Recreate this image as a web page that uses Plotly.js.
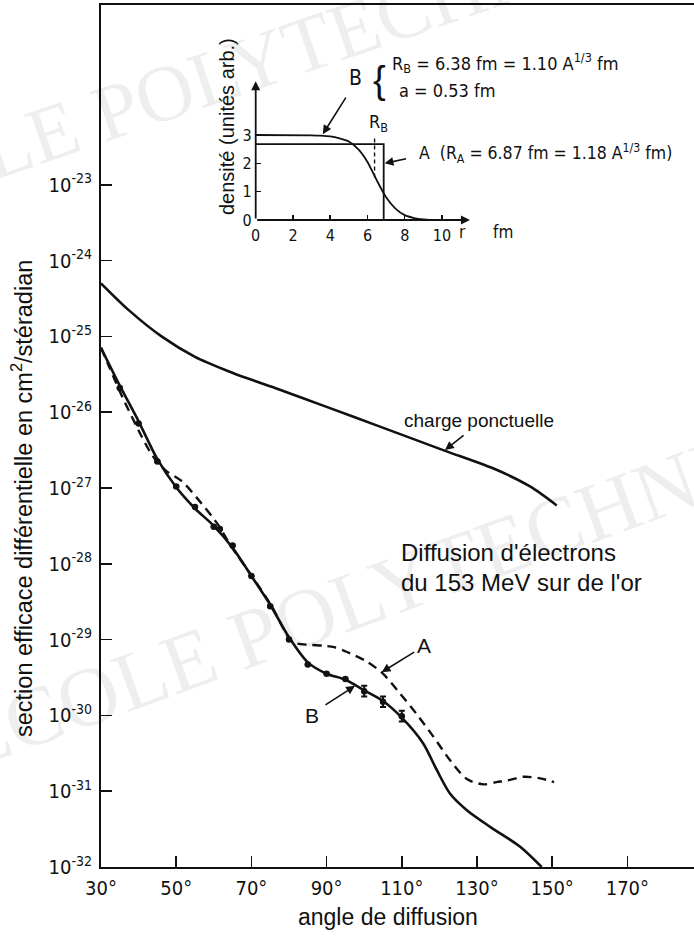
<!DOCTYPE html>
<html><head><meta charset="utf-8">
<script src="https://cdn.plot.ly/plotly-3.0.1.min.js"></script>
<style>html,body{margin:0;padding:0;background:#fff}#chart{width:694px;height:939px}</style>
</head><body><div id="chart"></div>
<script>
// Main chart: scattering angle (degrees) vs log10 of cross section (cm^2/sr)
const angleCharge = [30, 37.3, 46.1, 55, 63.9, 68.7, 76.3, 90, 104.2, 121.0, 135.2, 144.1, 151.2];
const logCharge   = [-24.30, -24.65, -25.00, -25.27, -25.46, -25.55, -25.68, -25.93, -26.19, -26.50, -26.76, -26.98, -27.23];

const angleB = [30, 35, 40, 45, 50, 55, 60, 65, 70, 75, 80, 85, 90, 95, 100, 105, 110, 115.7, 119.3, 122.8, 127.3, 133.5, 141.4, 147.2];
const logB   = [-25.15, -25.65, -26.12, -26.62, -26.99, -27.27, -27.50, -27.79, -28.16, -28.54, -28.97, -29.30, -29.45, -29.53, -29.67, -29.81, -30.03, -30.37, -30.72, -31.03, -31.25, -31.47, -31.73, -32.0];

const angleA = [30, 32, 35.5, 40.4, 43, 45, 47.5, 51.5, 55.5, 59.9, 61.6, 64.5, 70.1, 75.4, 80.3, 82, 85.6, 89.1, 92, 95.3, 100.7, 105, 109.5, 113.9, 118.4, 122.8, 127.3, 131.7, 135.2, 138, 142.3, 146.8, 150.5];
const logA   = [-25.15, -25.38, -25.78, -26.28, -26.52, -26.66, -26.78, -26.91, -27.13, -27.40, -27.52, -27.76, -28.16, -28.56, -29.00, -29.05, -29.07, -29.08, -29.10, -29.16, -29.29, -29.45, -29.71, -29.98, -30.28, -30.59, -30.84, -30.91, -30.88, -30.86, -30.81, -30.83, -30.88];

const angleData = [35, 40, 45, 50, 55, 60, 61.6, 65, 70, 75, 80, 85, 90, 95, 100, 105, 110];
const logData   = [-25.68, -26.15, -26.65, -26.98, -27.25, -27.51, -27.54, -27.76, -28.16, -28.56, -29.00, -29.33, -29.45, -29.52, -29.68, -29.82, -30.01];
const errLog    = [0, 0, 0, 0, 0, 0, 0, 0, 0, 0, 0, 0, 0, 0, 0.07, 0.07, 0.07];

const xTickVals = [30, 50, 70, 90, 110, 130, 150, 170];
const xTickText = ["30°", "50°", "70°", "90°", "110°", "130°", "150°", "170°"];
const yTickExp  = [-23, -24, -25, -26, -27, -28, -29, -30, -31, -32];

// Inset: density profiles
const rFermi    = [0, 3.0, 3.5, 4.0, 4.5, 5.0, 5.5, 6.0, 6.5, 7.0, 7.5, 8.0, 8.5, 9.0, 9.5];
const densFermi = [3.0, 2.99, 2.98, 2.95, 2.88, 2.77, 2.5, 2.05, 1.4, 0.8, 0.4, 0.17, 0.07, 0.02, 0.0];
const rA = 6.87, densA = 2.68, rB = 6.38;
const insetTicksX = [0, 2, 4, 6, 8, 10];
const insetTicksY = [0, 1, 2, 3];

const pw = (v) => Math.pow(10, v);
const BLACK = '#111';
const NARROW = '"Liberation Sans Narrow", "DejaVu Sans Condensed", "Liberation Sans", sans-serif';
const SANS = '"Liberation Sans", Arial, sans-serif';

// layout helpers (pixel -> paper)
const L = 101, R = 694, T = 5, B = 867;
const xp = (px) => (px - L) / (R - L);
const yp = (py) => (B - py) / (B - T);

const traces = [
  {x: angleCharge, y: logCharge.map(pw), mode: 'lines', line: {color: BLACK, width: 2.6, shape: 'spline', smoothing: 0.8}, xaxis: 'x', yaxis: 'y'},
  {x: angleA, y: logA.map(pw), mode: 'lines', line: {color: BLACK, width: 2.4, dash: '9px,6px', shape: 'spline', smoothing: 0.8}, xaxis: 'x', yaxis: 'y'},
  {x: angleB, y: logB.map(pw), mode: 'lines', line: {color: BLACK, width: 2.6, shape: 'spline', smoothing: 0.8}, xaxis: 'x', yaxis: 'y'},
  {x: angleData, y: logData.map(pw), mode: 'markers', marker: {color: BLACK, size: 6.5},
   error_y: {type: 'data', symmetric: false,
     array: logData.map((v, i) => pw(v + errLog[i]) - pw(v)),
     arrayminus: logData.map((v, i) => pw(v) - pw(v - errLog[i])),
     color: BLACK, thickness: 2, width: 3},
   xaxis: 'x', yaxis: 'y'},
  // inset
  {x: rFermi, y: densFermi, mode: 'lines', line: {color: BLACK, width: 1.8, shape: 'spline', smoothing: 0.6}, xaxis: 'x2', yaxis: 'y2'},
  {x: [0, rA, rA], y: [densA, densA, 0], mode: 'lines', line: {color: BLACK, width: 1.8}, xaxis: 'x2', yaxis: 'y2'},
  {x: [rB, rB], y: [1.5, 2.95], mode: 'lines', line: {color: BLACK, width: 1.4, dash: '4px,3px'}, xaxis: 'x2', yaxis: 'y2'}
];

const ann = [];
function txt(text, px, py, size, opts) {
  ann.push(Object.assign({text: text, x: xp(px), y: yp(py), xref: 'paper', yref: 'paper', showarrow: false,
    font: {family: SANS, size: size, color: BLACK}, xanchor: 'center', yanchor: 'middle'}, opts || {}));
}
function arrowMain(x, logy, ax, ay) {
  ann.push({x: x, y: logy, xref: 'x', yref: 'y', text: '', showarrow: true, ax: ax, ay: ay,
    arrowhead: 2, arrowsize: 1.1, arrowwidth: 1.6, arrowcolor: BLACK});
}
function arrowInset(x, y, ax, ay) {
  ann.push({x: x, y: y, xref: 'x2', yref: 'y2', text: '', showarrow: true, ax: ax, ay: ay,
    arrowhead: 2, arrowsize: 1.1, arrowwidth: 1.6, arrowcolor: BLACK});
}

// watermarks (faint, as in the scanned source)
txt('ECOLE POLYTECHNIQUE', 275, 55, 80, {font: {family: '"Liberation Serif", serif', size: 80, color: 'rgba(0,0,0,0.065)'}, textangle: -19});
txt('ECOLE POLYTECHNIQUE', 420, 575, 84, {font: {family: '"Liberation Serif", serif', size: 84, color: 'rgba(0,0,0,0.065)'}, textangle: -20});

// axis titles
txt('section efficace différentielle en cm<sup>2</sup>/stéradian', 22, 499, 23.5, {textangle: -90});
txt('angle de diffusion', 388, 917, 23);

// main annotations
txt('charge ponctuelle', 479, 420, 19);
arrowMain(121.5, -26.5, 20, -16);
txt("Diffusion d'électrons", 399, 552, 24, {xanchor: 'left'});
txt("du 153 MeV sur de l'or", 399, 583, 24, {xanchor: 'left'});
txt('A', 424, 645, 21);
arrowMain(104.65, -29.43, 34, -21);
txt('B', 312, 715, 21);
arrowMain(97.55, -29.61, -31, 20);

// inset annotations
txt('B', 355, 78, 21, {font: {family: NARROW, size: 21, color: BLACK}});
arrowInset(3.6, 3.03, 24, -38);
txt('{', 379, 80, 38, {font: {family: SANS, size: 38, color: BLACK}});
txt('R<sub>B</sub> = 6.38 fm = 1.10 A<sup>1/3</sup> fm', 390, 63, 18, {xanchor: 'left', font: {family: NARROW, size: 18, color: BLACK}});
txt('a = 0.53 fm', 397, 90, 18, {xanchor: 'left', font: {family: NARROW, size: 18, color: BLACK}});
txt('R<sub>B</sub>', 378, 123, 18, {font: {family: NARROW, size: 18, color: BLACK}});
txt('A  (R<sub>A</sub> = 6.87 fm = 1.18 A<sup>1/3</sup> fm)', 417, 153, 17.5, {xanchor: 'left', font: {family: NARROW, size: 17.5, color: BLACK}});
arrowInset(6.92, 2.0, 23, -5);
txt('r', 462, 232, 17, {font: {family: NARROW, size: 17, color: BLACK}});
txt('fm', 503, 232, 17, {font: {family: NARROW, size: 17, color: BLACK}});
txt('densité (unités arb.)', 227, 127, 20, {textangle: -90});
// inset axes with arrowheads
ann.push({x: 11.5, y: 0, ax: 0, ay: 0, xref: 'x2', yref: 'y2', axref: 'x2', ayref: 'y2', text: '', showarrow: true,
  arrowhead: 2, arrowsize: 1, arrowwidth: 1.8, arrowcolor: BLACK});
ann.push({x: 0, y: 4.9, ax: 0, ay: 0, xref: 'x2', yref: 'y2', axref: 'x2', ayref: 'y2', text: '', showarrow: true,
  arrowhead: 2, arrowsize: 1, arrowwidth: 1.8, arrowcolor: BLACK});

// inset domain from pixel positions
const ix0 = 255.7, pxPerFm = 18.63, iy0 = 220, pxPerUnit = 28.33;
const insetXRange = [0, 11.6], insetYRange = [0, 5.0];

const layout = {
  width: 694, height: 939,
  margin: {l: L, r: 694 - R, t: T, b: 939 - B, pad: 0},
  paper_bgcolor: '#fff', plot_bgcolor: 'rgba(0,0,0,0)',
  showlegend: false,
  xaxis: {range: [30, 30 + (R - L) / 3.76], showgrid: false, zeroline: false,
    showline: true, linecolor: BLACK, linewidth: 2, mirror: true,
    ticks: 'inside', ticklen: 11, tickwidth: 1.6, tickcolor: BLACK,
    tickvals: xTickVals, ticktext: xTickText, ticklabelstandoff: 2,
    tickfont: {family: NARROW, size: 20, color: BLACK}},
  yaxis: {type: 'log', range: [-32, -32 + (B - T) / 75.8], showgrid: false, zeroline: false,
    showline: true, linecolor: BLACK, linewidth: 2,
    ticks: 'inside', ticklen: 11, tickwidth: 1.6, tickcolor: BLACK,
    tickvals: yTickExp.map(pw), ticktext: yTickExp.map(e => '10<sup>-' + (-e) + '</sup>'),
    ticklabelstandoff: 3,
    tickfont: {family: NARROW, size: 20, color: BLACK}},
  xaxis2: {domain: [xp(ix0), xp(ix0 + insetXRange[1] * pxPerFm)], anchor: 'y2', range: insetXRange,
    showgrid: false, zeroline: false, showline: false,
    ticks: 'inside', ticklen: 5, tickwidth: 1.5, tickcolor: BLACK, ticklabelstandoff: 4,
    tickvals: insetTicksX, tickfont: {family: NARROW, size: 16, color: BLACK}},
  yaxis2: {domain: [yp(iy0), yp(iy0 - insetYRange[1] * pxPerUnit)], anchor: 'x2', range: insetYRange,
    showgrid: false, zeroline: false, showline: false,
    ticks: 'inside', ticklen: 5, tickwidth: 1.5, tickcolor: BLACK, ticklabelstandoff: 3,
    tickvals: insetTicksY, tickfont: {family: NARROW, size: 16, color: BLACK}},
  annotations: ann
};

Plotly.newPlot('chart', traces, layout, {displayModeBar: false, staticPlot: true});
</script>
</body></html>
